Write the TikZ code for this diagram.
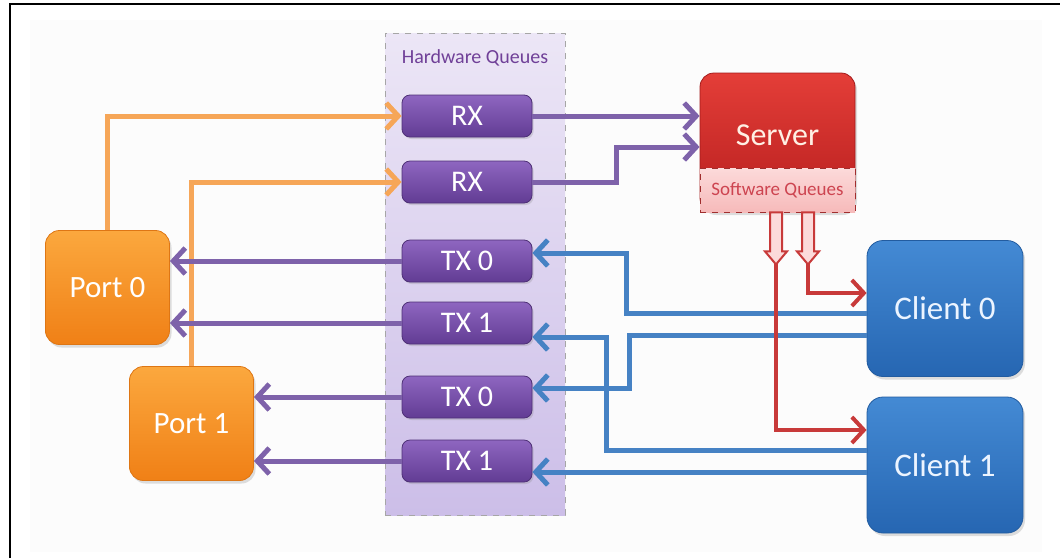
\documentclass[tikz,border=0pt]{standalone}
\definecolor{porttop}{RGB}{251,168,62}
\definecolor{portbot}{RGB}{240,128,22}
\definecolor{portedge}{RGB}{222,118,20}
\definecolor{queuetop}{RGB}{142,102,192}
\definecolor{queuebot}{RGB}{98,60,148}
\definecolor{queueedge}{RGB}{78,48,118}
\definecolor{hwtop}{RGB}{236,230,246}
\definecolor{hwbot}{RGB}{204,190,232}
\definecolor{hwtext}{RGB}{112,64,152}
\definecolor{servertop}{RGB}{228,62,56}
\definecolor{serverbot}{RGB}{182,30,30}
\definecolor{swtop}{RGB}{252,218,218}
\definecolor{swbot}{RGB}{246,186,186}
\definecolor{swtext}{RGB}{205,68,80}
\definecolor{clienttop}{RGB}{68,138,212}
\definecolor{clientbot}{RGB}{38,102,178}
\definecolor{feedorange}{RGB}{246,166,88}
\definecolor{sendpurple}{RGB}{126,98,170}
\definecolor{replyblue}{RGB}{70,130,196}
\definecolor{deliverred}{RGB}{200,58,58}
\usepackage{fontspec}
\setmainfont{Carlito}
\usepackage{tikz}
\usetikzlibrary{
    arrows.meta,
    positioning,
    calc,
    shadows
}
\tikzstyle{port} = [
    rectangle,
    rounded corners=7pt,
    draw=portedge,
    top color=porttop,
    bottom color=portbot,
    minimum width=62pt,
    minimum height=57pt,
    text=white,
    font=\fontsize{15.5}{18}\selectfont,
    drop shadow={opacity=0.25, shadow xshift=1pt, shadow yshift=-1.5pt}
]
\tikzstyle{queue} = [
    rectangle,
    rounded corners=4pt,
    draw=queueedge,
    top color=queuetop,
    bottom color=queuebot,
    minimum width=65pt,
    minimum height=21pt,
    text=white,
    font=\fontsize{15}{18}\selectfont,
    drop shadow={opacity=0.25, shadow xshift=0.8pt, shadow yshift=-1pt}
]
\tikzstyle{hwbox} = [
    rectangle,
    dashed,
    draw=gray!70,
    top color=hwtop,
    bottom color=hwbot,
    minimum width=90pt,
    minimum height=241pt
]
\tikzstyle{server} = [
    rectangle,
    rounded corners=7pt,
    draw=serverbot!90!black,
    top color=servertop,
    bottom color=serverbot,
    minimum width=77.5pt,
    minimum height=69.5pt,
    text depth=7.5pt,
    text={rgb,255:red,255;green,240;blue,228},
    font=\fontsize{16}{19}\selectfont,
    drop shadow={opacity=0.25, shadow xshift=1pt, shadow yshift=-1.5pt}
]
\tikzstyle{swqueue} = [
    rectangle,
    dashed,
    draw=deliverred!80!black,
    top color=swtop,
    bottom color=swbot,
    minimum width=77.5pt,
    minimum height=22pt,
    text=swtext,
    font=\fontsize{9.5}{11}\selectfont
]
\tikzstyle{client} = [
    rectangle,
    rounded corners=8pt,
    draw=clientbot!90!black,
    top color=clienttop,
    bottom color=clientbot,
    minimum width=78pt,
    minimum height=68pt,
    text={rgb,255:red,236;green,244;blue,255},
    font=\fontsize{16.5}{19}\selectfont,
    drop shadow={opacity=0.25, shadow xshift=1pt, shadow yshift=-1.5pt}
]
\tikzstyle{feed} = [
    -{Straight Barb[length=6pt,width=13pt]},
    line width=2.5pt,
    draw=feedorange
]
\tikzstyle{send} = [
    -{Straight Barb[length=6pt,width=13pt]},
    line width=2.5pt,
    draw=sendpurple
]
\tikzstyle{reply} = [
    -{Straight Barb[length=6pt,width=13pt]},
    line width=2.5pt,
    draw=replyblue
]
\tikzstyle{deliver} = [
    -{Straight Barb[length=6pt,width=13pt]},
    line width=2pt,
    draw=deliverred
]
\tikzstyle{outq} = [
    line width=1pt,
    draw=deliverred,
    fill=swtop
]

\begin{document}
\begin{tikzpicture}[x=0.5pt, y=-0.5pt]
    \useasboundingbox (0,0) rectangle (1060,558);
    % Frame
    \fill[black!1] (30,20) rectangle (1042,552);
    \draw[line width=1pt] (10,558) -- (10,4) -- (1060,4);

    % Hardware queues
    \node[hwbox] (hw) at (475,274) {};
    \node[font=\fontsize{10}{12}\selectfont, text=hwtext] (hwlabel) at (475,58) {Hardware Queues};
    \node[queue] (rxa) at (467,116) {RX};
    \node[queue] (rxb) at (467,182) {RX};
    \node[queue] (txa0) at (467,261) {TX 0};
    \node[queue] (txa1) at (467,323) {TX 1};
    \node[queue] (txb0) at (467,397) {TX 0};
    \node[queue] (txb1) at (467,461) {TX 1};

    % Ports
    \node[port] (port0) at (107.5,287.5) {Port 0};
    \node[port] (port1) at (191.5,423.5) {Port 1};

    % Server and clients
    \node[server] (server) at (777.5,142.5) {Server};
    \node[swqueue, anchor=south] (swq) at (server.south) {Software Queues};
    \node[client] (client0) at (945,308.5) {Client 0};
    \node[client] (client1) at (945,465) {Client 1};

    % Receive paths
    \draw[feed] (port0.north) |- (rxa.west);
    \draw[feed] (port1.north) |- (rxb.west);
    \draw[send] (rxa.east) -- (rxa.east -| server.west);
    \draw[send] (rxb.east) -- ++(84,0) |- ([yshift=-2.25pt]server.west);

    % Transmit paths
    \draw[send] (txa0.west) -- (txa0.west -| port0.east);
    \draw[send] (txa1.west) -- (txa1.west -| port0.east);
    \draw[send] (txb0.west) -- (txb0.west -| port1.east);
    \draw[send] (txb1.west) -- (txb1.west -| port1.east);

    % Client replies
    \draw[reply] ([yshift=-2.25pt]client0.west) -- ++(-240,0) |- ([yshift=4pt]txa0.east);
    \draw[reply] ([yshift=-13.25pt]client0.west) -- ++(-237,0) |- ([yshift=4.5pt]txb0.east);
    \draw[reply] ([yshift=7.5pt]client1.west) -- ++(-260,0) |- ([yshift=-7pt]txa1.east);
    \draw[reply] ([yshift=-3.5pt]client1.west) -- ([yshift=-3.5pt]client1.west -| txb1.east);

    % Software queue outputs
    \foreach \dx in {-1.5, 30.5}
        \draw[outq] ($(swq.south)+(\dx,0)$) ++(-6,0) -- ++(0,39) -- ++(-5,0)
            -- ++(11,13) -- ++(11,-13) -- ++(-5,0) -- ++(0,-39) -- cycle;
    \coordinate (tip0) at ($(swq.south)+(-1.5,52)$);
    \coordinate (tip1) at ($(swq.south)+(30.5,52)$);
    \draw[deliver] (tip1) |- ([yshift=7.75pt]client0.west);
    \draw[deliver] (tip0) |- ([yshift=17.5pt]client1.west);
\end{tikzpicture}
\end{document}
